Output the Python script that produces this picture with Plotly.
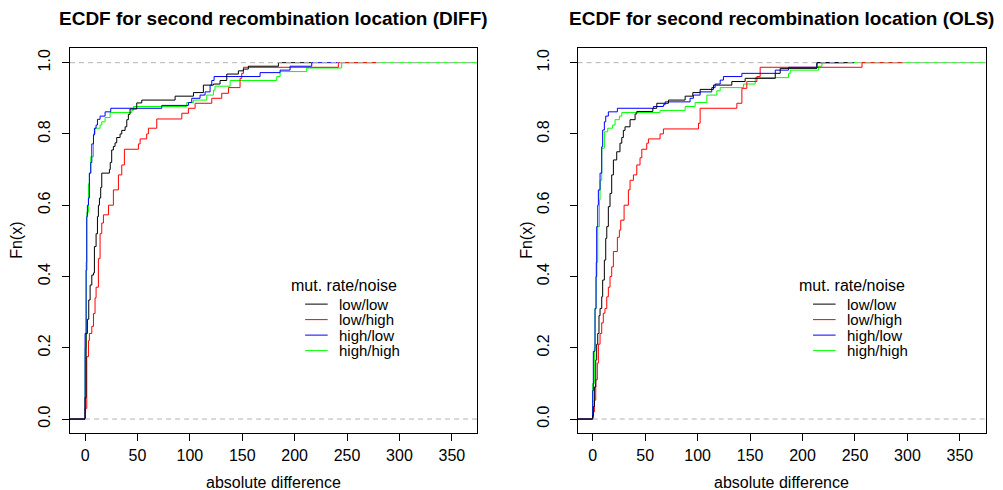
import plotly.graph_objects as go

# ---------------- data ----------------
series_names = ["low/low", "low/high", "high/low", "high/high"]
series_colors = ["#000000", "#FF0000", "#0000FF", "#00FF00"]

# DIFF panel: ECDF jump locations (x) and levels after each jump (y)
diff_lowlow_x = [0, 1, 2.2, 3.5, 4.8, 6.4, 8, 8.9, 10.5, 11.8, 12.7, 13.7, 14.9, 15.9, 23.2, 24.0, 25.4, 27, 28.6, 30.2,
                 33.4, 35, 38.2, 39.8, 41.3, 42.9, 49.3, 54.1, 85.9, 103.4, 112.9, 122.5, 128.8, 135.2, 146.3, 151, 155.8, 184.5]
diff_lowlow_y = [0.06, 0.24, 0.28, 0.334, 0.376, 0.404, 0.41, 0.484, 0.52, 0.568, 0.60, 0.62, 0.65, 0.69, 0.70, 0.72, 0.755, 0.765, 0.775, 0.79,
                 0.80, 0.81, 0.82, 0.84, 0.855, 0.87, 0.887, 0.895, 0.906, 0.916, 0.937, 0.94, 0.95, 0.968, 0.977, 0.982, 0.99, 1.0]
diff_lowhigh_x = [0, 1.6, 3.2, 4.1, 6.4, 8, 9.5, 10.5, 12.7, 14.3, 15.9, 17.5, 22.3, 27, 31.8, 35, 37.5, 50.9, 52.5, 58.8,
                  60.4, 68.4, 92.3, 98.6, 105, 120.9, 130.4, 136.8, 147.9, 149.5, 151.1, 241.7]
diff_lowhigh_y = [0.03, 0.175, 0.22, 0.24, 0.26, 0.296, 0.34, 0.37, 0.45, 0.52, 0.55, 0.573, 0.60, 0.643, 0.685, 0.713, 0.757, 0.772, 0.786, 0.80,
                  0.816, 0.842, 0.858, 0.872, 0.886, 0.90, 0.914, 0.93, 0.956, 0.97, 0.987, 1.0]
diff_highlow_x = [0, 1, 1.6, 2.2, 3.2, 4.1, 5.4, 6.4, 8, 8.9, 10.5, 11.8, 14.3, 19.1, 24.5, 73.2, 98.6, 101.8, 109.7, 114.5,
                  119.3, 120.9, 123.1, 167, 186.1, 195.6, 216.3]
diff_highlow_y = [0.24, 0.418, 0.568, 0.60, 0.62, 0.69, 0.72, 0.772, 0.797, 0.816, 0.825, 0.841, 0.85, 0.862, 0.872, 0.88, 0.888, 0.90, 0.909, 0.918,
                  0.937, 0.95, 0.961, 0.972, 0.979, 0.99, 1.0]
diff_highhigh_x = [0, 1, 1.6, 3.2, 4.1, 5.4, 8, 9.5, 14.3, 15.9, 19.1, 23.9, 44.5, 46.1, 97, 103.4, 116.1, 122.5, 124, 138.4,
                   182.9, 186.1, 211.5, 244.9]
diff_highhigh_y = [0.2, 0.44, 0.58, 0.66, 0.69, 0.736, 0.80, 0.816, 0.825, 0.834, 0.846, 0.86, 0.866, 0.877, 0.888, 0.895, 0.909, 0.923, 0.934, 0.95,
                   0.961, 0.975, 0.985, 1.0]
diff_tail_end = [216, 278, 241, 400]

# OLS panel
ols_lowlow_x = [0, 0.6, 1.6, 2.9, 3.8, 4.8, 6, 7, 8.6, 9.5, 11.1, 12.4, 13.4, 14.9, 16.5, 18.1, 19.7, 22.9, 26, 27.7,
                29.2, 30.8, 35.6, 40.4, 42, 57.3, 61.1, 72.2, 88.1, 95.4, 102.4, 115.1, 132.6, 145.3, 174, 178.7, 213.7]
ols_lowlow_y = [0.01, 0.035, 0.09, 0.166, 0.21, 0.24, 0.29, 0.31, 0.343, 0.39, 0.446, 0.507, 0.54, 0.596, 0.633, 0.685, 0.727, 0.75, 0.774, 0.79,
                0.81, 0.82, 0.84, 0.856, 0.863, 0.872, 0.886, 0.895, 0.906, 0.916, 0.925, 0.937, 0.947, 0.956, 0.97, 0.984, 1.0]
ols_lowhigh_x = [0, 0.6, 1.6, 2.9, 4.4, 5.4, 7, 8.6, 10.1, 11.7, 13.4, 14.9, 16.5, 18.1, 19.7, 23.5, 25.4, 26.7, 29.9, 34,
                 35.6, 38.8, 42, 45.1, 46.8, 51.5, 53.1, 64.2, 67.4, 100.8, 102.4, 137.4, 142.2, 146.9, 156.5, 159.6, 256.7]
ols_lowhigh_y = [0.005, 0.02, 0.053, 0.11, 0.157, 0.21, 0.24, 0.27, 0.297, 0.31, 0.343, 0.37, 0.40, 0.427, 0.47, 0.51, 0.53, 0.558, 0.60, 0.643,
                 0.67, 0.685, 0.713, 0.733, 0.757, 0.774, 0.786, 0.80, 0.814, 0.83, 0.872, 0.886, 0.928, 0.947, 0.961, 0.987, 1.0]
ols_highlow_x = [0, 0.6, 2.2, 3.2, 3.8, 4.8, 5.4, 7, 8.6, 9.5, 11.1, 12.4, 14.9, 23.5, 57.9, 67.4, 69, 92.8, 96, 102.4,
                 113.5, 116.7, 121.5, 124.6, 142.2, 174, 186.7, 213.7]
ols_highlow_y = [0.08, 0.19, 0.31, 0.40, 0.54, 0.60, 0.643, 0.69, 0.764, 0.811, 0.834, 0.85, 0.862, 0.872, 0.877, 0.882, 0.89, 0.90, 0.909, 0.918,
                 0.93, 0.94, 0.951, 0.961, 0.97, 0.979, 0.987, 1.0]
ols_highhigh_x = [0, 1.6, 2.2, 3.2, 4.8, 6.4, 7, 8.6, 11.1, 14.3, 19, 21.3, 25.4, 27.7, 64.2, 88.1, 97.6, 108.8, 118.3, 121.5,
                  143.7, 154.9, 186.7, 188.3, 215.3, 218.5]
ols_highhigh_y = [0.1, 0.2, 0.31, 0.44, 0.54, 0.615, 0.67, 0.76, 0.806, 0.816, 0.825, 0.84, 0.85, 0.86, 0.866, 0.877, 0.888, 0.909, 0.921, 0.93,
                  0.94, 0.958, 0.97, 0.979, 0.99, 1.0]
ols_tail_end = [249, 296, 240, 400]

x_ticks = [0, 50, 100, 150, 200, 250, 300, 350]
y_ticks = [0.0, 0.2, 0.4, 0.6, 0.8, 1.0]
y_tick_labels = ["0.0", "0.2", "0.4", "0.6", "0.8", "1.0"]
panel_titles = ["ECDF for second recombination location (DIFF)",
                "ECDF for second recombination location (OLS)"]
x_label = "absolute difference"
y_label = "Fn(x)"
legend_title = "mut. rate/noise"

# ---------------- layout geometry ----------------
W, H = 1003, 490
X_RANGE = [-14.4, 374.4]
Y_RANGE = [-0.04, 1.04]
dom1 = [70 / W, 477.4 / W]
dom2 = [577.6 / W, 985.5 / W]
ydom = [(H - 433.3) / H, (H - 48.4) / H]
FONT = "Liberation Sans, Arial, Helvetica, sans-serif"

fig = go.Figure()

panels = [
    ("x", "y", [diff_lowlow_x, diff_lowhigh_x, diff_highlow_x, diff_highhigh_x],
     [diff_lowlow_y, diff_lowhigh_y, diff_highlow_y, diff_highhigh_y], diff_tail_end),
    ("x2", "y2", [ols_lowlow_x, ols_lowhigh_x, ols_highlow_x, ols_highhigh_x],
     [ols_lowlow_y, ols_lowhigh_y, ols_highlow_y, ols_highhigh_y], ols_tail_end),
]

draw_order = [3, 1, 2, 0]  # green, red, blue, black (black on top)
for xa, ya, xs, ys, tails in panels:
    for i in draw_order:
        px = [X_RANGE[0] - 5] + list(xs[i]) + [tails[i]]
        py = [0.0] + list(ys[i]) + [ys[i][-1]]
        fig.add_trace(go.Scatter(x=px, y=py, mode="lines", line=dict(color=series_colors[i], width=1, shape="hv"),
                                 xaxis=xa, yaxis=ya, showlegend=False, hoverinfo="skip"))
    # grey dashed reference lines on top
    fig.add_trace(go.Scatter(x=[X_RANGE[0], X_RANGE[1] + 5], y=[1, 1], mode="lines",
                             line=dict(color="#B3B3B3", width=1, dash="5px,4px"),
                             xaxis=xa, yaxis=ya, showlegend=False, hoverinfo="skip"))
    fig.add_trace(go.Scatter(x=[0, X_RANGE[1] + 5], y=[0, 0], mode="lines",
                             line=dict(color="#B3B3B3", width=1, dash="5px,4px"),
                             xaxis=xa, yaxis=ya, showlegend=False, hoverinfo="skip"))

axis_common = dict(showgrid=False, zeroline=False, showline=True, linecolor="black", linewidth=1,
                   mirror=True, ticks="outside", ticklen=7, tickcolor="black", tickwidth=1,
                   tickfont=dict(family=FONT, size=16, color="black"))

fig.update_layout(
    width=W, height=H, margin=dict(l=0, r=0, t=0, b=0),
    paper_bgcolor="white", plot_bgcolor="white", showlegend=False,
    xaxis=dict(domain=dom1, range=X_RANGE, tickvals=x_ticks, anchor="y", **axis_common),
    yaxis=dict(domain=ydom, range=Y_RANGE, tickvals=y_ticks, ticktext=y_tick_labels, tickangle=-90,
               anchor="x", ticklabelstandoff=6, **axis_common),
    xaxis2=dict(domain=dom2, range=X_RANGE, tickvals=x_ticks, anchor="y2", **axis_common),
    yaxis2=dict(domain=ydom, range=Y_RANGE, tickvals=y_ticks, ticktext=y_tick_labels, tickangle=-90,
                anchor="x2", ticklabelstandoff=14, **axis_common),
)

annotations = []
centers = [(dom1[0] + dom1[1]) / 2, (dom2[0] + dom2[1]) / 2]
ylab_x = [17 / W, 527 / W]
for k in range(2):
    annotations.append(dict(text="<b>" + panel_titles[k] + "</b>", x=centers[k], y=(H - 18) / H, xref="paper", yref="paper",
                            xanchor="center", yanchor="middle", showarrow=False,
                            font=dict(family=FONT, size=19, color="black")))
    annotations.append(dict(text=x_label, x=centers[k], y=(H - 482) / H, xref="paper", yref="paper",
                            xanchor="center", yanchor="middle", showarrow=False,
                            font=dict(family=FONT, size=16, color="black")))
    annotations.append(dict(text=y_label, x=ylab_x[k], y=(ydom[0] + ydom[1]) / 2, xref="paper", yref="paper",
                            xanchor="center", yanchor="middle", textangle=-90, showarrow=False,
                            font=dict(family=FONT, size=16, color="black")))

# legends (drawn in data coordinates of each panel)
leg_title_x = 247.5
leg_line_x = [210, 231.5]
leg_text_x = 241.5
leg_title_y = 0.375
leg_entry_y = [0.3225, 0.279, 0.2355, 0.192]
shapes = []
for xa, ya in [("x", "y"), ("x2", "y2")]:
    annotations.append(dict(text=legend_title, x=leg_title_x, y=leg_title_y, xref=xa, yref=ya,
                            xanchor="center", yanchor="middle", showarrow=False, borderpad=0,
                            font=dict(family=FONT, size=16, color="black")))
    for i in range(4):
        shapes.append(dict(type="line", xref=xa, yref=ya, x0=leg_line_x[0], x1=leg_line_x[1],
                           y0=leg_entry_y[i], y1=leg_entry_y[i], line=dict(color=series_colors[i], width=1)))
        annotations.append(dict(text=series_names[i], x=leg_text_x, y=leg_entry_y[i], xref=xa, yref=ya,
                                xanchor="left", yanchor="middle", showarrow=False, borderpad=0,
                                font=dict(family=FONT, size=15, color="black")))

fig.update_layout(annotations=annotations, shapes=shapes)
fig.write_html("out.html", config={"displayModeBar": False},
               post_script="document.body.style.margin='0px';document.body.style.padding='0px';")
